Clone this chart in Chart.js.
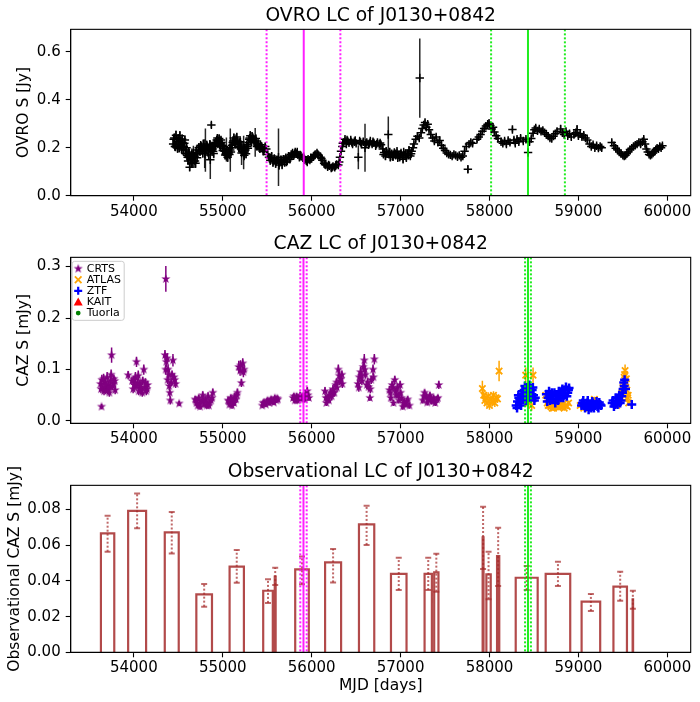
<!DOCTYPE html>
<html>
<head>
<meta charset="utf-8">
<script src="https://cdn.jsdelivr.net/npm/chart.js@4.4.1/dist/chart.umd.min.js"></script>
<style>
  body { margin: 0; background: #fff; width: 700px; height: 702px; position: relative; overflow: hidden; }
  canvas { position: absolute; left: 0; }
</style>
</head>
<body>
<canvas id="ovro" width="700" height="228" style="top:0px"></canvas>
<canvas id="caz" width="700" height="228" style="top:228px"></canvas>
<canvas id="obs" width="700" height="246" style="top:456px"></canvas>
<script>
// tick labels
const xTicks = [54000, 55000, 56000, 57000, 58000, 59000, 60000];
const ovroTicks = [0, 0.2, 0.4, 0.6];
const cazTicks = [0, 0.1, 0.2, 0.3];
const obsTicks = [0, 0.02, 0.04, 0.06, 0.08];

// OVRO radio light curve (MJD, S [Jy], error)
const ovroMjd = [54442,54455,54468,54480,54492,54505,54518,54530,54543,54556,54568,54580,54593,
  54605,54617,54628,54640,54652,54664,54676,54688,54700,54712,
  54730,54745,54760,54775,54790,54805,54820,54835,54848,54860,54872,54885,54898,54912,
  54925,54940,54953,54966,54980,54993,55006,55020,55034,55048,55062,55075,55085,55098,
  55112,55125,55138,55152,55165,55178,55192,55205,55220,55235,55248,55262,55276,55290,
  55303,55316,55330,55345,55365,55378,55392,55410,55425,55445,55465,55490,55505,55520,
  55535,55550,55565,55580,55595,55610,55627,55640,55655,55668,55682,55696,55710,55725,
  55740,55755,55770,55785,55800,55815,55830,55845,55862,55880,55900,55920,55940,55960,
  55980,56000,56020,56040,56060,56080,56100,56120,56140,56160,56180,56200,56220,56240,
  56260,56280,56300,56318,56330,56345,56360,56375,56390,56405,56420,56440,56460,56480,
  56500,56525,56540,56560,56580,56600,56620,56640,56660,56680,56700,56720,56740,56760,
  56780,56800,56815,56830,56845,56862,56870,56885,56900,56915,56930,56945,56960,56975,
  56990,57005,57020,57035,57050,57065,57080,57095,57110,57125,57150,57170,57190,57210,
  57216,57230,57245,57260,57275,57290,57305,57320,57340,57360,57380,57400,57420,57440,
  57460,57480,57500,57520,57540,57560,57580,57600,57620,57640,57660,57680,57700,57720,
  57740,57757,57770,57790,57810,57860,57880,57900,57920,57940,57960,57980,57995,58010,
  58025,58040,58055,58075,58095,58130,58150,58170,58190,58210,58230,58258,58275,58290,
  58310,58330,58350,58380,58410,58434,58450,58470,58490,58505,58520,58540,58560,58580,
  58600,58620,58640,58660,58680,58700,58720,58740,58760,58800,58820,58840,58860,58880,
  58900,58920,58950,58970,58985,59000,59020,59040,59060,59080,59100,59125,59145,59165,
  59185,59205,59225,59245,59262,59375,59400,59420,59440,59460,59480,59500,59515,59530,
  59545,59560,59580,59600,59620,59640,59660,59680,59700,59720,59735,59750,59765,59780,
  59795,59810,59825,59840,59855,59870,59885,59900,59915,59930,59945];
const ovroFlux = [0.215,0.240,0.205,0.232,0.198,0.225,0.250,0.212,0.236,0.190,0.218,0.176,0.200,
  0.160,0.182,0.118,0.150,0.172,0.138,0.165,0.145,0.178,0.158,
  0.200,0.185,0.205,0.178,0.198,0.190,0.210,0.182,0.200,0.150,0.295,0.195,0.176,0.205,
  0.222,0.240,0.228,0.215,0.232,0.210,0.198,0.185,0.176,0.168,0.185,0.172,0.190,0.200,
  0.222,0.240,0.215,0.236,0.228,0.205,0.220,0.195,0.185,0.180,0.198,0.175,0.205,0.222,
  0.240,0.230,0.248,0.235,0.222,0.228,0.210,0.200,0.212,0.196,0.192,0.195,0.172,0.160,
  0.148,0.165,0.140,0.155,0.135,0.150,0.160,0.138,0.148,0.130,0.152,0.138,0.158,0.145,
  0.165,0.152,0.172,0.178,0.168,0.182,0.175,0.170,0.160,0.165,0.158,0.150,0.145,0.152,
  0.148,0.155,0.162,0.172,0.178,0.168,0.160,0.148,0.135,0.128,0.120,0.125,0.115,0.122,
  0.118,0.130,0.128,0.160,0.185,0.205,0.222,0.235,0.215,0.228,0.220,0.232,0.215,0.225,
  0.218,0.160,0.228,0.215,0.225,0.200,0.222,0.212,0.228,0.215,0.220,0.208,0.222,0.215,
  0.212,0.195,0.180,0.165,0.178,0.255,0.172,0.160,0.175,0.162,0.180,0.168,0.185,0.170,
  0.160,0.178,0.165,0.182,0.170,0.158,0.175,0.190,0.165,0.185,0.215,0.235,0.248,0.240,
  0.490,0.262,0.280,0.295,0.305,0.285,0.298,0.275,0.255,0.240,0.228,0.245,0.222,0.230,
  0.210,0.198,0.188,0.178,0.172,0.170,0.165,0.172,0.168,0.162,0.168,0.160,0.165,0.185,
  0.205,0.110,0.215,0.222,0.218,0.235,0.245,0.255,0.268,0.280,0.290,0.298,0.302,0.292,
  0.278,0.285,0.265,0.250,0.238,0.225,0.218,0.228,0.215,0.230,0.222,0.276,0.232,0.218,
  0.235,0.225,0.240,0.228,0.235,0.180,0.225,0.238,0.260,0.275,0.282,0.270,0.278,0.268,
  0.272,0.262,0.255,0.248,0.240,0.238,0.248,0.258,0.268,0.278,0.262,0.255,0.268,0.250,
  0.258,0.245,0.255,0.262,0.275,0.250,0.258,0.245,0.252,0.240,0.232,0.215,0.205,0.212,
  0.200,0.208,0.198,0.205,0.200,0.222,0.208,0.198,0.190,0.182,0.175,0.168,0.165,0.168,
  0.175,0.182,0.192,0.198,0.205,0.210,0.215,0.222,0.215,0.225,0.235,0.215,0.195,0.182,
  0.172,0.168,0.172,0.178,0.185,0.192,0.198,0.195,0.205,0.200,0.208];
const ovroErr = [0.015,0.02,0.02,0.015,0.02,0.015,0.02,0.015,0.02,0.02,0.015,0.02,0.02,
  0.02,0.02,0.015,0.02,0.025,0.02,0.02,0.03,0.02,0.02,
  0.02,0.02,0.015,0.02,0.02,0.09,0.02,0.02,0.02,0.08,0.012,0.02,0.02,0.02,
  0.015,0.015,0.015,0.02,0.015,0.02,0.02,0.02,0.02,0.02,0.02,0.02,0.09,0.02,
  0.015,0.02,0.015,0.02,0.015,0.02,0.015,0.02,0.02,0.07,0.02,0.02,0.02,0.015,
  0.015,0.02,0.015,0.015,0.06,0.015,0.015,0.015,0.012,0.015,0.015,0.015,0.015,0.015,
  0.02,0.015,0.02,0.015,0.02,0.015,0.12,0.015,0.02,0.02,0.015,0.015,0.015,0.015,
  0.012,0.015,0.012,0.012,0.012,0.012,0.012,0.012,0.012,0.012,0.012,0.012,0.012,0.012,
  0.012,0.012,0.012,0.012,0.012,0.012,0.012,0.012,0.012,0.012,0.012,0.012,0.012,0.012,
  0.012,0.015,0.012,0.015,0.015,0.015,0.012,0.012,0.012,0.012,0.012,0.012,0.012,0.012,
  0.012,0.05,0.012,0.012,0.012,0.1,0.012,0.012,0.012,0.012,0.012,0.012,0.012,0.012,
  0.012,0.015,0.015,0.015,0.015,0.075,0.012,0.015,0.015,0.015,0.012,0.015,0.012,0.015,
  0.015,0.012,0.015,0.012,0.015,0.015,0.012,0.015,0.012,0.012,0.012,0.012,0.012,0.012,
  0.165,0.012,0.012,0.012,0.012,0.012,0.012,0.012,0.012,0.012,0.012,0.012,0.012,0.012,
  0.012,0.012,0.012,0.012,0.012,0.012,0.012,0.012,0.012,0.012,0.012,0.012,0.012,0.012,
  0.012,0.015,0.012,0.012,0.012,0.012,0.012,0.012,0.012,0.012,0.012,0.012,0.012,0.012,
  0.012,0.012,0.012,0.012,0.012,0.012,0.012,0.012,0.012,0.012,0.012,0.012,0.012,0.012,
  0.012,0.012,0.012,0.012,0.012,0.012,0.012,0.012,0.012,0.012,0.012,0.012,0.012,0.012,
  0.012,0.012,0.012,0.012,0.012,0.012,0.012,0.012,0.012,0.015,0.012,0.012,0.012,0.012,
  0.012,0.012,0.012,0.012,0.02,0.012,0.012,0.012,0.012,0.012,0.012,0.012,0.012,0.012,
  0.012,0.012,0.012,0.012,0.012,0.012,0.012,0.012,0.012,0.012,0.012,0.012,0.012,0.012,
  0.012,0.012,0.012,0.012,0.012,0.012,0.012,0.012,0.012,0.012,0.012,0.012,0.012,0.012,
  0.012,0.012,0.012,0.012,0.012,0.012,0.012,0.012,0.012,0.012,0.012];

// more OVRO epochs in the noisy 2008-2015 stretch
const ovroMjd2 = [54448,54462,54474,54486,54498,54511,54524,54537,54549,54562,
  54574,54586,54598,54610,54622,54634,54646,54658,54670,54682,
  54694,54706,54718,54737,54752,54767,54782,54797,54812,54827,
  54842,54854,54866,54879,54892,54905,54918,54932,54946,54960,
  54973,54986,55000,55013,55027,55041,55055,55068,55080,55092,
  55105,55118,55132,55145,55158,55172,55185,55198,55212,55228,
  55242,55255,55269,55283,55297,55310,55323,55338,55352,55372,
  55385,55400,55418,55435,55455,55478,
  55545,55575,55603,55633,55661,55689,55717,55748,55777,55808,
  55838,55870,55910,55950,55990,56030,56070,56110,56150,56190,
  56230,56270,56310,56350,56398,56450,56490,56550,56610,56650,
  56690,56730,56770,56808,56838,56878,56908,56938,56968,56998,
  57028,57058,57088,57118,57140];
const ovroFlux2 = [0.235,0.205,0.252,0.212,0.240,0.200,0.228,0.195,0.222,0.205,
  0.232,0.190,0.168,0.145,0.170,0.160,0.135,0.155,0.178,0.160,
  0.135,0.190,0.175,0.188,0.210,0.192,0.215,0.175,0.195,0.205,
  0.170,0.212,0.188,0.205,0.185,0.218,0.210,0.232,0.218,0.238,
  0.205,0.222,0.188,0.205,0.170,0.192,0.160,0.178,0.200,0.182,
  0.210,0.228,0.232,0.220,0.245,0.212,0.200,0.225,0.178,0.195,
  0.168,0.190,0.212,0.198,0.235,0.250,0.222,0.240,0.228,0.238,
  0.205,0.218,0.195,0.205,0.185,0.205,
  0.158,0.145,0.142,0.128,0.142,0.150,0.140,0.160,0.165,0.175,
  0.182,0.170,0.162,0.140,0.158,0.168,0.172,0.155,0.130,0.128,
  0.118,0.125,0.140,0.218,0.232,0.222,0.230,0.222,0.218,0.218,
  0.225,0.215,0.220,0.172,0.185,0.182,0.165,0.175,0.158,0.172,
  0.152,0.175,0.168,0.175,0.200];
const ovroErr2 = [0.02,0.015,0.02,0.02,0.015,0.02,0.015,0.02,0.02,0.015,
  0.02,0.02,0.02,0.015,0.025,0.02,0.02,0.02,0.03,0.02,
  0.02,0.02,0.015,0.02,0.015,0.02,0.02,0.06,0.02,0.015,
  0.02,0.02,0.015,0.02,0.02,0.015,0.02,0.015,0.02,0.015,
  0.02,0.015,0.02,0.02,0.02,0.05,0.02,0.02,0.015,0.02,
  0.015,0.02,0.015,0.02,0.015,0.02,0.02,0.015,0.05,0.02,
  0.02,0.02,0.015,0.02,0.015,0.02,0.015,0.02,0.015,0.015,
  0.015,0.015,0.015,0.015,0.015,0.015,
  0.015,0.015,0.015,0.02,0.015,0.015,0.015,0.012,0.012,0.012,
  0.012,0.012,0.012,0.012,0.012,0.012,0.012,0.012,0.012,0.012,
  0.012,0.012,0.012,0.012,0.012,0.012,0.012,0.012,0.012,0.012,
  0.012,0.012,0.012,0.015,0.015,0.015,0.015,0.015,0.015,0.015,
  0.015,0.015,0.015,0.015,0.012];

// optical light curves (MJD, S [mJy], error)
const crtsMjd = [53637,53625,53640,53652,53665,53678,53690,53700,53712,53725,53738,53750,53762,53775,53790,
  53936,53980,53992,54005,54018,54030,54042,54055,54068,54080,54095,54112,54125,54140,54155,
  54350,54358,54360,54375,54380,54392,54404,54410,54420,54440,54452,54470,54510,
  54690,54705,54718,54730,54745,54760,54775,54790,54805,54820,54835,54850,54870,54888,
  55060,55075,55090,55105,55120,55135,55150,55165,55180,55195,55210,55225,55240,
  55445,55465,55485,55505,55525,55545,55565,55585,55605,55620,
  55790,55810,55830,55850,55870,55890,55910,55930,55950,55970,
  56150,56165,56180,56195,56210,56225,56240,56255,56270,56285,56300,56315,56330,56345,
  56520,56535,56550,56565,56580,56592,56605,56620,56640,56655,56670,56690,56705,
  56875,56890,56905,56920,56935,56950,56965,56980,56995,57010,57025,57040,57060,57080,57100,
  57250,57270,57290,57310,57330,57350,57370,57390,57410,57430,
  53630,53660,53685,53705,53730,53745,53770,53785,54000,54025,
  54050,54075,54100,54130,54148,54365,54385,54398,54430,54460,
  54700,54740,54780,54815,54845,54880,55070,55100,55128,55158,
  55200,55232,55455,55495,55535,55575,55612,55800,55840,55880,
  55920,55960,56160,56200,56245,56280,56310,56340,56530,56560,
  56598,56630,56660,56695,56885,56915,56945,56975,57000,57035,
  57070,57260,57300,57340,57380,57420];
const crtsFlux = [0.028,0.072,0.080,0.065,0.058,0.075,0.062,0.085,0.070,0.055,0.078,0.128,0.068,0.082,0.060,
  0.089,0.078,0.062,0.070,0.085,0.115,0.075,0.058,0.072,0.066,0.055,0.100,0.065,0.058,0.070,
  0.128,0.100,0.276,0.122,0.080,0.090,0.055,0.040,0.075,0.118,0.085,0.072,0.034,
  0.042,0.035,0.030,0.045,0.028,0.038,0.050,0.032,0.042,0.030,0.048,0.036,0.040,0.055,
  0.040,0.032,0.045,0.030,0.038,0.048,0.042,0.055,0.105,0.098,0.074,0.112,0.100,
  0.030,0.036,0.032,0.040,0.035,0.042,0.038,0.045,0.040,0.042,
  0.045,0.040,0.048,0.042,0.050,0.044,0.046,0.052,0.058,0.045,
  0.058,0.035,0.045,0.040,0.055,0.048,0.062,0.055,0.070,0.065,0.100,0.078,0.082,0.072,
  0.072,0.085,0.095,0.078,0.105,0.118,0.090,0.070,0.066,0.045,0.080,0.100,0.120,
  0.060,0.045,0.070,0.035,0.080,0.050,0.065,0.040,0.070,0.045,0.028,0.038,0.032,0.042,0.030,
  0.040,0.055,0.048,0.042,0.050,0.038,0.045,0.035,0.042,0.070,
  0.062,0.082,0.070,0.060,0.065,0.090,0.072,0.078,0.080,0.068,
  0.088,0.060,0.078,0.075,0.062,0.115,0.100,0.068,0.090,0.080,
  0.040,0.035,0.040,0.038,0.030,0.045,0.038,0.042,0.035,0.050,
  0.108,0.095,0.035,0.038,0.040,0.036,0.044,0.048,0.040,0.046,
  0.042,0.050,0.045,0.050,0.055,0.075,0.088,0.090,0.065,0.088,
  0.100,0.075,0.062,0.085,0.055,0.065,0.058,0.050,0.055,0.035,
  0.038,0.048,0.036,0.044,0.040,0.045];
const crtsErr = [0.005,0.008,0.01,0.008,0.008,0.01,0.008,0.01,0.008,0.008,0.01,0.015,0.008,0.008,0.008,
  0.008,0.008,0.008,0.008,0.01,0.01,0.008,0.008,0.008,0.008,0.008,0.01,0.008,0.008,0.008,
  0.01,0.01,0.025,0.01,0.008,0.008,0.008,0.008,0.008,0.012,0.008,0.008,0.005,
  0.006,0.006,0.006,0.006,0.006,0.006,0.008,0.006,0.006,0.006,0.008,0.006,0.006,0.008,
  0.006,0.006,0.006,0.006,0.006,0.006,0.006,0.008,0.012,0.01,0.008,0.01,0.01,
  0.005,0.005,0.005,0.005,0.005,0.005,0.005,0.005,0.005,0.005,
  0.006,0.006,0.006,0.006,0.006,0.006,0.006,0.008,0.008,0.006,
  0.008,0.006,0.006,0.006,0.008,0.008,0.008,0.008,0.008,0.008,0.01,0.008,0.01,0.008,
  0.008,0.01,0.01,0.008,0.01,0.012,0.008,0.008,0.008,0.006,0.008,0.01,0.01,
  0.008,0.006,0.008,0.006,0.008,0.006,0.008,0.006,0.008,0.006,0.006,0.006,0.006,0.006,0.006,
  0.006,0.006,0.006,0.006,0.006,0.006,0.006,0.006,0.006,0.008,
  0.008,0.01,0.008,0.008,0.008,0.01,0.008,0.008,0.008,0.008,
  0.01,0.008,0.008,0.008,0.008,0.01,0.01,0.008,0.008,0.008,
  0.006,0.006,0.006,0.006,0.006,0.006,0.006,0.006,0.006,0.006,
  0.01,0.01,0.005,0.005,0.005,0.005,0.005,0.006,0.006,0.006,
  0.006,0.006,0.006,0.006,0.008,0.008,0.008,0.008,0.008,0.01,
  0.01,0.008,0.008,0.008,0.008,0.008,0.006,0.006,0.006,0.006,
  0.006,0.006,0.006,0.006,0.006,0.006];

const atlasMjd = [57920,57935,57948,57960,57972,57985,58000,58015,58030,58045,58060,58075,58090,58108,
  58400,58407,58420,58440,58460,58475,58490,
  58632,58660,58690,58720,58750,58780,58810,58840,58860,58890,
  59020,59060,59100,59140,59180,59220,
  59430,59470,59490,59505,59515,59525,59535,59545,59555,59565,
  58650,58675,58705,58735,58765,58795,58825,58875,59480,59500,59520,59540,59560];
const atlasFlux = [0.063,0.050,0.040,0.045,0.035,0.048,0.030,0.042,0.038,0.050,0.035,0.045,0.043,0.097,
  0.040,0.089,0.055,0.035,0.045,0.030,0.089,
  0.050,0.030,0.028,0.025,0.030,0.026,0.028,0.025,0.030,0.035,
  0.030,0.025,0.028,0.035,0.042,0.030,
  0.030,0.040,0.055,0.070,0.085,0.098,0.075,0.060,0.045,0.035,
  0.035,0.030,0.025,0.032,0.028,0.030,0.032,0.028,0.045,0.065,0.090,0.082,0.050];
const atlasErr = [0.015,0.008,0.008,0.008,0.008,0.008,0.008,0.008,0.008,0.008,0.008,0.008,0.008,0.02,
  0.01,0.015,0.01,0.01,0.01,0.01,0.015,
  0.008,0.005,0.005,0.005,0.005,0.005,0.005,0.005,0.005,0.005,
  0.005,0.005,0.005,0.005,0.005,0.005,
  0.005,0.005,0.008,0.008,0.01,0.012,0.008,0.008,0.006,0.006,
  0.005,0.005,0.005,0.005,0.005,0.005,0.005,0.005,0.006,0.008,0.01,0.01,0.006];

const ztfMjd = [58300,58315,58330,58345,58360,58375,58390,58405,58420,58435,58450,58465,58480,58495,58515,
  58640,58660,58680,58700,58720,58740,58760,58780,58800,58820,58840,58860,58880,58895,
  59035,59055,59075,59095,59115,59135,59155,59175,59195,59215,59235,59255,
  59380,59400,59420,59440,59460,59480,59495,59510,59520,59530,59600,
  58310,58325,58340,58355,58370,58385,58398,58412,58428,58442,
  58457,58472,58488,58505,58650,58670,58690,58710,58730,58750,
  58770,58790,58810,58830,58850,58870,58888,59045,59065,59085,
  59105,59125,59145,59165,59185,59205,59225,59245,59390,59410,
  59430,59450,59470,59488,59503,59515];
const ztfFlux = [0.030,0.038,0.045,0.035,0.052,0.042,0.060,0.048,0.065,0.055,0.070,0.045,0.060,0.050,0.045,
  0.052,0.045,0.040,0.055,0.048,0.035,0.042,0.058,0.045,0.062,0.050,0.066,0.055,0.064,
  0.030,0.040,0.025,0.035,0.022,0.030,0.038,0.025,0.032,0.028,0.036,0.030,
  0.035,0.028,0.045,0.032,0.050,0.040,0.055,0.075,0.080,0.062,0.032,
  0.025,0.050,0.042,0.030,0.058,0.045,0.068,0.040,0.060,0.048,
  0.062,0.052,0.065,0.040,0.038,0.058,0.048,0.042,0.055,0.050,
  0.040,0.052,0.058,0.045,0.060,0.048,0.060,0.035,0.030,0.028,
  0.040,0.032,0.025,0.035,0.030,0.038,0.025,0.032,0.040,0.032,
  0.038,0.045,0.035,0.048,0.062,0.068];
const ztfErr = [0.004,0.004,0.004,0.004,0.005,0.004,0.005,0.004,0.005,0.005,0.005,0.004,0.005,0.004,0.004,
  0.004,0.004,0.004,0.004,0.004,0.004,0.004,0.004,0.004,0.004,0.004,0.004,0.004,0.004,
  0.004,0.004,0.004,0.004,0.004,0.004,0.004,0.004,0.004,0.004,0.004,0.004,
  0.004,0.004,0.004,0.004,0.004,0.004,0.005,0.008,0.008,0.006,0.004,
  0.004,0.004,0.004,0.004,0.004,0.004,0.005,0.004,0.004,0.004,
  0.004,0.004,0.005,0.004,0.004,0.004,0.004,0.004,0.004,0.004,
  0.004,0.004,0.004,0.004,0.004,0.004,0.004,0.004,0.004,0.004,
  0.004,0.004,0.004,0.004,0.004,0.004,0.004,0.004,0.004,0.004,
  0.004,0.004,0.004,0.004,0.006,0.006];

// observational (binned) light curve
const binStart = [53630,53936,54348,54703,55077,55455,55585,55815,56151,56532,56892,57270,57378,
  57923,57965,58085,58295,58632,59036,59394,59610];
const binEnd = [53780,54138,54505,54879,55238,55563,55595,55968,56331,56704,57067,57352,57426,
  57933,58014,58110,58542,58908,59245,59546,59615];
const binFlux = [0.0667,0.0793,0.0672,0.0325,0.0480,0.0345,0.0425,0.0465,0.0504,0.0717,0.0440,0.0440,0.0448,
  0.0645,0.0437,0.0540,0.0418,0.0440,0.0284,0.0368,0.0297];
const binLo = [0.0564,0.0695,0.0554,0.0256,0.0390,0.0277,0.0377,0.0381,0.0392,0.0602,0.0349,0.0349,0.0340,
  0.0467,0.0298,0.0371,0.0349,0.0371,0.0232,0.0289,0.0244];
const binHi = [0.0765,0.0890,0.0787,0.0383,0.0573,0.0410,0.0474,0.0537,0.0579,0.0822,0.0530,0.0530,0.0553,
  0.0816,0.0564,0.0698,0.0484,0.0508,0.0327,0.0452,0.0345];

// marked epochs
const ovroLines = { magenta: [55911, 55493, 56323], lime: [58433, 58018, 58848] };
const cazLines = { magenta: [55908, 55872, 55944], lime: [58433, 58400, 58466] };

const X_MIN = 53290, X_MAX = 60263;
const FONT = "'DejaVu Sans', sans-serif";
const MAGENTA = 'rgba(255,0,255,0.88)';
const LIME = 'rgba(0,235,0,0.88)';
const BROWN = 'rgba(165,42,42,0.85)';
const BROWN_ERR = 'rgba(165,42,42,0.7)';

Chart.defaults.font.family = FONT;
Chart.defaults.color = '#000';

function pts(xs, ys) {
  return xs.map((x, i) => ({ x, y: ys[i] }));
}

function starImage(color, r) {
  const c = document.createElement('canvas');
  const s = Math.ceil(r * 2 + 2);
  c.width = s; c.height = s;
  const g = c.getContext('2d');
  g.fillStyle = color;
  g.beginPath();
  for (let i = 0; i < 10; i++) {
    const rad = i % 2 ? r * 0.4 : r;
    const a = -Math.PI / 2 + i * Math.PI / 5;
    const px = s / 2 + rad * Math.cos(a), py = s / 2 + rad * Math.sin(a);
    if (i) g.lineTo(px, py); else g.moveTo(px, py);
  }
  g.closePath();
  g.fill();
  return c;
}
const purpleStar = starImage('#800080', 4.8);

function fixedTicks(values) {
  return s => { s.ticks = values.map(v => ({ value: v })); };
}

function xAxis(height, title) {
  return {
    type: 'linear', min: X_MIN, max: X_MAX,
    grid: { drawOnChartArea: false, drawTicks: true, tickLength: 5, tickColor: '#000', tickWidth: 1.1 },
    border: { display: true, color: '#000', width: 1.1 },
    ticks: { autoSkip: false, maxRotation: 0, padding: 2,
      font: { size: 15 }, color: '#000', callback: v => String(v) },
    title: title ? { display: true, text: title, font: { size: 15.5 }, color: '#000', padding: { top: 0, bottom: 6.7 } }
                 : { display: false },
    afterBuildTicks: fixedTicks(xTicks),
    afterFit: s => { s.height = height; }
  };
}

function yAxis(min, max, ticks, dec, title, titlePad) {
  return {
    type: 'linear', min, max,
    grid: { drawOnChartArea: false, drawTicks: true, tickLength: 5, tickColor: '#000', tickWidth: 1.1 },
    border: { display: true, color: '#000', width: 1.1 },
    ticks: { autoSkip: false, padding: 5, font: { size: 15 }, color: '#000',
      callback: v => v.toFixed(dec) },
    title: { display: true, text: title, font: { size: 15.5 }, color: '#000', padding: { top: titlePad, bottom: 0 } },
    afterBuildTicks: fixedTicks(ticks),
    afterFit: s => { s.width = 70.7; }
  };
}

// title centred over the plot area, like matplotlib
function titleOpts(text) {
  return { display: true, fullSize: false, text, color: '#000',
    font: { size: 18.7, weight: 'normal' }, padding: { top: 5, bottom: 1.9 } };
}

function clipTo(ctx, a) {
  ctx.beginPath();
  ctx.rect(a.left, a.top, a.right - a.left, a.bottom - a.top);
  ctx.clip();
}

function drawErrors(chart, onTop) {
  const { ctx, chartArea, scales } = chart;
  ctx.save();
  clipTo(ctx, chartArea);
  chart.data.datasets.forEach(ds => {
    const eb = ds.errorBars;
    if (!eb || !!eb.onTop !== onTop) return;
    ctx.strokeStyle = eb.color;
    ctx.lineWidth = eb.width;
    eb.x.forEach((xv, i) => {
      const px = scales.x.getPixelForValue(xv);
      const y1 = scales.y.getPixelForValue(eb.lo[i]);
      const y2 = scales.y.getPixelForValue(eb.hi[i]);
      ctx.setLineDash(eb.dash || []);
      ctx.beginPath(); ctx.moveTo(px, y1); ctx.lineTo(px, y2); ctx.stroke();
      if (eb.cap) {
        ctx.setLineDash([]);
        ctx.beginPath();
        ctx.moveTo(px - eb.cap, y1); ctx.lineTo(px + eb.cap, y1);
        ctx.moveTo(px - eb.cap, y2); ctx.lineTo(px + eb.cap, y2);
        ctx.stroke();
      }
    });
  });
  ctx.restore();
}

function drawVLines(chart, lines) {
  const { ctx, chartArea, scales } = chart;
  ctx.save();
  clipTo(ctx, chartArea);
  [[lines.magenta, MAGENTA], [lines.lime, LIME]].forEach(([vals, color]) => {
    vals.forEach((v, i) => {
      const px = scales.x.getPixelForValue(v);
      ctx.strokeStyle = color;
      ctx.lineWidth = 2;
      ctx.setLineDash(i === 0 ? [] : [2, 2]);
      ctx.beginPath(); ctx.moveTo(px, chartArea.top); ctx.lineTo(px, chartArea.bottom); ctx.stroke();
    });
  });
  ctx.restore();
}

function framePlugin(lines) {
  return {
    id: 'frame',
    beforeDatasetsDraw(chart) { drawErrors(chart, false); },
    afterDatasetsDraw(chart) {
      drawErrors(chart, true);
      drawVLines(chart, lines);
      const { ctx, chartArea: a } = chart;
      ctx.save();
      ctx.strokeStyle = '#000';
      ctx.lineWidth = 1.1;
      ctx.strokeRect(a.left, a.top, a.right - a.left, a.bottom - a.top);
      ctx.restore();
    }
  };
}

function errorsFor(xs, ys, es, color, width) {
  return { x: xs, lo: ys.map((y, i) => y - es[i]), hi: ys.map((y, i) => y + es[i]), color, width };
}

function baseOptions(title, x, y) {
  return {
    responsive: false, animation: false,
    layout: { padding: { left: 0, right: 9.3, top: 0, bottom: 0 } },
    plugins: { legend: { display: false }, tooltip: { enabled: false }, title: titleOpts(title) },
    scales: { x, y }
  };
}

// --- OVRO panel
const ovroAllMjd = ovroMjd.concat(ovroMjd2);
const ovroAllFlux = ovroFlux.concat(ovroFlux2);
const ovroAllErr = ovroErr.concat(ovroErr2);

new Chart(document.getElementById('ovro'), {
  type: 'scatter',
  data: {
    datasets: [{
      label: 'OVRO',
      data: pts(ovroAllMjd, ovroAllFlux),
      pointStyle: 'cross', pointRadius: 4.2, pointBorderWidth: 1.5,
      borderColor: '#000', backgroundColor: '#000',
      errorBars: errorsFor(ovroAllMjd, ovroAllFlux, ovroAllErr, 'rgba(0,0,0,0.85)', 1.5)
    }]
  },
  options: baseOptions('OVRO LC of J0130+0842', xAxis(32.3), yAxis(0, 0.693, ovroTicks, 1, 'OVRO S [Jy]', 14.7)),
  plugins: [framePlugin(ovroLines)]
});

// --- CAZ panel
const legendItems = [
  { label: 'CRTS', kind: 'star', color: '#800080' },
  { label: 'ATLAS', kind: 'x', color: '#ffa500' },
  { label: 'ZTF', kind: 'plus', color: '#0000ff' },
  { label: 'KAIT', kind: 'tri', color: '#ff0000' },
  { label: 'Tuorla', kind: 'dot', color: '#008000' }
];

const legendPlugin = {
  id: 'cazLegend',
  afterDraw(chart) {
    const { ctx, chartArea: a } = chart;
    const left = a.left + 1.5, top = a.top + 4, w = 52, h = 59;
    ctx.save();
    ctx.fillStyle = 'rgba(255,255,255,0.8)';
    ctx.strokeStyle = '#cccccc';
    ctx.lineWidth = 1;
    ctx.beginPath();
    ctx.roundRect(left, top, w, h, 2.5);
    ctx.fill();
    ctx.stroke();
    ctx.font = '11px ' + FONT;
    ctx.textBaseline = 'middle';
    legendItems.forEach((it, i) => {
      const mx = left + 6, my = top + 7.3 + i * 11.1;
      ctx.fillStyle = it.color;
      ctx.strokeStyle = it.color;
      if (it.kind === 'star') {
        ctx.drawImage(purpleStar, mx - purpleStar.width / 2, my - purpleStar.height / 2);
      } else if (it.kind === 'x') {
        ctx.lineWidth = 1.8;
        ctx.beginPath();
        ctx.moveTo(mx - 3.3, my - 3.3); ctx.lineTo(mx + 3.3, my + 3.3);
        ctx.moveTo(mx - 3.3, my + 3.3); ctx.lineTo(mx + 3.3, my - 3.3);
        ctx.stroke();
      } else if (it.kind === 'plus') {
        ctx.lineWidth = 2.2;
        ctx.beginPath();
        ctx.moveTo(mx - 4, my); ctx.lineTo(mx + 4, my);
        ctx.moveTo(mx, my - 4); ctx.lineTo(mx, my + 4);
        ctx.stroke();
      } else if (it.kind === 'tri') {
        ctx.beginPath();
        ctx.moveTo(mx, my - 4.5); ctx.lineTo(mx + 4.5, my + 3.5); ctx.lineTo(mx - 4.5, my + 3.5);
        ctx.closePath(); ctx.fill();
      } else {
        ctx.beginPath(); ctx.arc(mx, my, 2.4, 0, Math.PI * 2); ctx.fill();
      }
      ctx.fillStyle = '#000';
      ctx.fillText(it.label, left + 14.5, my + 0.5);
    });
    ctx.restore();
  }
};

new Chart(document.getElementById('caz'), {
  type: 'scatter',
  data: {
    datasets: [
      {
        label: 'ZTF', order: 0,
        data: pts(ztfMjd, ztfFlux),
        pointStyle: 'cross', pointRadius: 4.5, pointBorderWidth: 2.5,
        borderColor: '#0000ff', backgroundColor: '#0000ff',
        errorBars: errorsFor(ztfMjd, ztfFlux, ztfErr, '#0000ff', 1.5)
      },
      {
        label: 'ATLAS', order: 1,
        data: pts(atlasMjd, atlasFlux),
        pointStyle: 'crossRot', pointRadius: 4.5, pointBorderWidth: 1.8,
        borderColor: '#ffa500', backgroundColor: '#ffa500',
        errorBars: errorsFor(atlasMjd, atlasFlux, atlasErr, '#ffa500', 1.5)
      },
      {
        label: 'CRTS', order: 2,
        data: pts(crtsMjd, crtsFlux),
        pointStyle: purpleStar, pointRadius: 4.8,
        borderColor: '#800080', backgroundColor: '#800080',
        errorBars: errorsFor(crtsMjd, crtsFlux, crtsErr, '#800080', 1.5)
      }
    ]
  },
  options: baseOptions('CAZ LC of J0130+0842', xAxis(32.7), yAxis(-0.0045, 0.318, cazTicks, 1, 'CAZ S [mJy]', 14.7)),
  plugins: [framePlugin(cazLines), legendPlugin]
});

// --- Observational (binned) panel
const barOutline = [];
binStart.forEach((s, i) => {
  const e = binEnd[i], h = binFlux[i];
  barOutline.push({ x: s, y: 0 }, { x: s, y: h }, { x: e, y: h }, { x: e, y: 0 }, { x: e, y: null });
});
const binMid = binStart.map((s, i) => (s + binEnd[i]) / 2);

new Chart(document.getElementById('obs'), {
  type: 'scatter',
  data: {
    datasets: [{
      label: 'Observational',
      data: barOutline,
      showLine: true, spanGaps: false, tension: 0,
      pointRadius: 0, borderColor: BROWN, borderWidth: 2.2,
      borderJoinStyle: 'miter', borderCapStyle: 'butt',
      errorBars: { x: binMid, lo: binLo, hi: binHi, color: BROWN_ERR, width: 2, dash: [2, 2], cap: 3, onTop: true }
    }]
  },
  options: baseOptions('Observational LC of J0130+0842', xAxis(49.7, 'MJD [days]'),
    yAxis(0, 0.0936, obsTicks, 2, 'Observational CAZ S [mJy]', 5.7)),
  plugins: [framePlugin(cazLines)]
});
</script>
</body>
</html>
